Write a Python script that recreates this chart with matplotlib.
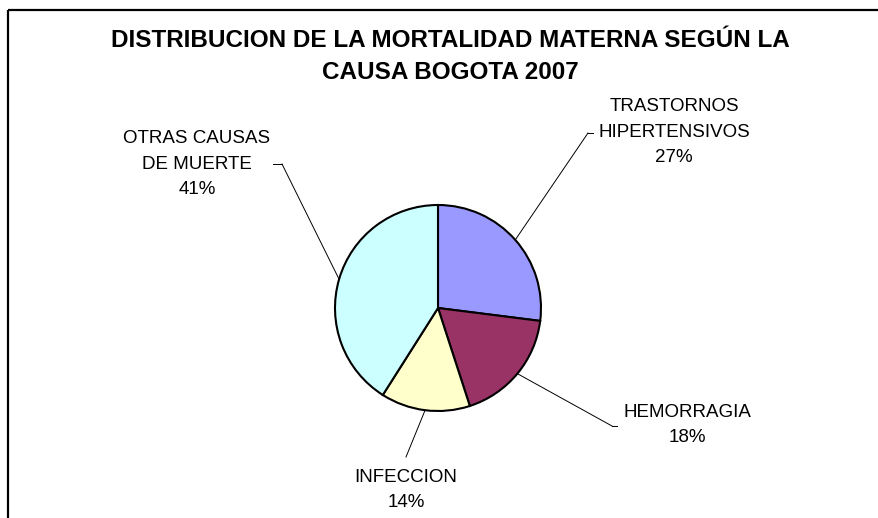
import matplotlib
matplotlib.use("Agg")
import matplotlib.pyplot as plt
import numpy as np

# datos de la grafica
causas = ["TRASTORNOS\nHIPERTENSIVOS", "HEMORRAGIA", "INFECCION", "OTRAS CAUSAS\nDE MUERTE"]
porcentajes = [27, 18, 14, 41]
colores = ["#9999FF", "#993366", "#FFFFCC", "#CCFFFF"]
titulo = "DISTRIBUCION DE LA MORTALIDAD MATERNA SEGÚN LA\nCAUSA BOGOTA 2007"

W, H = 879, 518

def Y(y):
	# pixel (origen arriba) -> datos
	return H - y

fig = plt.figure(figsize=(W / 100, H / 100), dpi=100)
ax = fig.add_axes([0, 0, 1, 1])

# marco
ax.plot([8, W], [Y(10), Y(10)], color="black", lw=1.6, solid_capstyle="butt")
ax.plot([8, 8], [Y(10), 0], color="black", lw=1.6, solid_capstyle="butt")

ax.text(450, Y(56), titulo, ha="center", va="center", fontsize=17.5, fontweight="bold",
	family="Liberation Sans", linespacing=1.5)

cx, cy, r = 438, Y(308), 103
wedges, _ = ax.pie(porcentajes, colors=colores, startangle=90, counterclock=False,
	center=(cx, cy), radius=r, wedgeprops=dict(edgecolor="black", linewidth=1.5))
ax.set_xlim(0, W)
ax.set_ylim(0, H)
ax.set_aspect("equal")
ax.axis("off")

# posiciones de etiquetas y lineas guia (pixeles)
lab_pos = [(674, 132), (687, 425), (406, 490), (197, 164)]
guia_fin = [(588, 133), (612, 426), (406, 457), (282, 164)]
tick_dx = [5, 5, 0, -9]

for w, nombre, p, lp, gf, dx in zip(wedges, causas, porcentajes, lab_pos, guia_fin, tick_dx):
	ang = np.deg2rad((w.theta1 + w.theta2) / 2)
	x0 = cx + r * np.cos(ang)
	y0 = cy + r * np.sin(ang)
	ax.plot([x0, gf[0]], [y0, Y(gf[1])], color="black", lw=0.7)
	if dx:
		ax.plot([gf[0], gf[0] + dx], [Y(gf[1]), Y(gf[1])], color="black", lw=0.7)
	ax.text(lp[0], Y(lp[1]), nombre + "\n" + str(p) + "%", ha="center", va="center",
		fontsize=13.5, family="Liberation Sans", linespacing=1.65)

fig.savefig("out.png", dpi=100)
